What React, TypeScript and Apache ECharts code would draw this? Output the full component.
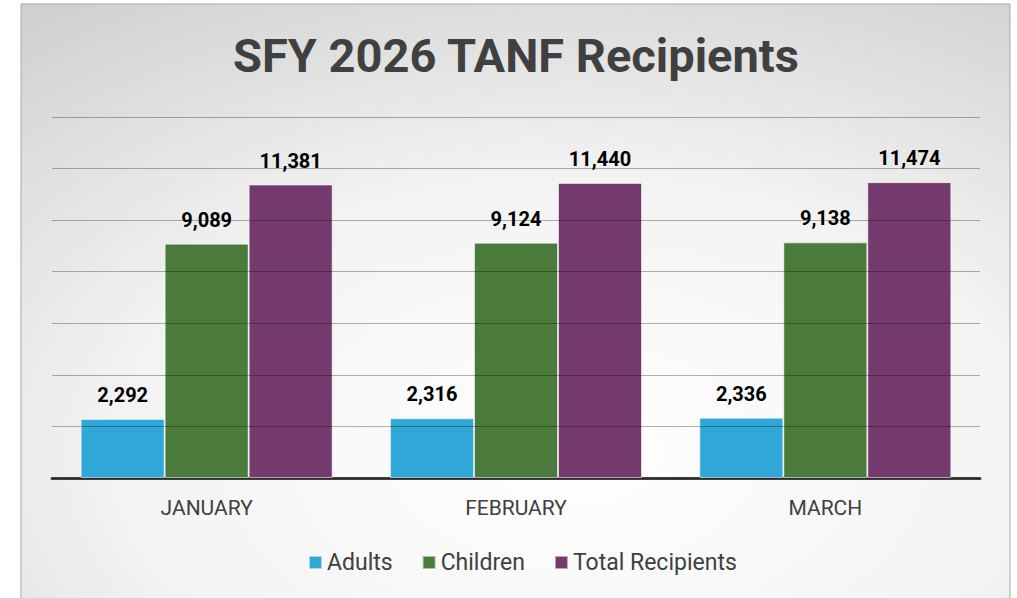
import React, { useEffect, useRef } from "react";
import * as echarts from "echarts";

const categories = ["JANUARY", "FEBRUARY", "MARCH"];
const adults = [2292, 2316, 2336];
const children = [9089, 9124, 9138];
const totalRecipients = [11381, 11440, 11474];
const seriesNames = ["Adults", "Children", "Total Recipients"];
const titleText = "SFY 2026 TANF Recipients";

const FONT = "Roboto, 'Liberation Sans', sans-serif";

export default function App() {
  const ref = useRef<HTMLDivElement>(null);
  useEffect(() => {
    const chart = echarts.init(ref.current!, null, { renderer: "svg" });
    const fmt = (p: any) => Number(p.value).toLocaleString("en-US");
    const mkSeries = (name: string, data: number[], color: string) => ({
      name,
      type: "bar",
      data,
      barWidth: 84,
      barGap: "0%",
      itemStyle: { color, borderColor: "rgba(255,255,255,0.55)", borderWidth: 1 },
      label: {
        show: true,
        position: "top",
        distance: 14,
        formatter: fmt,
        fontFamily: FONT,
        fontWeight: "bold",
        fontSize: 20,
        color: "#000",
      },
    });
    chart.setOption({
      animation: false,
      graphic: [
        {
          type: "rect",
          z: -10,
          silent: true,
          shape: { x: 21, y: 4, width: 989, height: 600 },
          style: {
            fill: {
              type: "radial",
              x: 0.56,
              y: 0.75,
              r: 1.15,
              colorStops: [
                { offset: 0, color: "#ffffff" },
                { offset: 0.4, color: "#f3f3f3" },
                { offset: 1, color: "#bebebe" },
              ],
            },
            stroke: "#a8a8a8",
            lineWidth: 1,
          },
        },
        {
          type: "text",
          z: 10,
          x: 516,
          y: 55,
          style: {
            text: titleText,
            fontFamily: FONT,
            fontWeight: "bold",
            fontSize: 47,
            fill: "#404040",
            textAlign: "center",
            textVerticalAlign: "middle",
          },
        },
      ],
      legend: {
        data: seriesNames,
        left: 303,
        top: 546,
        itemWidth: 13,
        itemHeight: 13,
        itemGap: 29,
        icon: "rect",
        textStyle: { fontFamily: FONT, fontSize: 23, color: "#404040" },
      },
      grid: { left: 52, right: 37, top: 117, bottom: 120 },
      xAxis: {
        type: "category",
        data: categories,
        axisLine: { lineStyle: { color: "#404040", width: 3 } },
        axisTick: { show: false },
        axisLabel: { fontFamily: FONT, fontSize: 21, color: "#404040", margin: 19 },
      },
      yAxis: {
        type: "value",
        z: 3,
        min: 0,
        max: 14000,
        interval: 2000,
        axisLabel: { show: false },
        axisLine: { show: false },
        axisTick: { show: false },
        splitLine: { lineStyle: { color: "rgba(0,0,0,0.3)", width: 1 } },
      },
      series: [
        mkSeries(seriesNames[0], adults, "#2fa8d8"),
        mkSeries(seriesNames[1], children, "#4a7a3c"),
        mkSeries(seriesNames[2], totalRecipients, "#743a6d"),
      ],
    });
    return () => chart.dispose();
  }, []);
  return <div ref={ref} style={{ position: "absolute", left: 0, top: 0, width: 1017, height: 598 }} />;
}
